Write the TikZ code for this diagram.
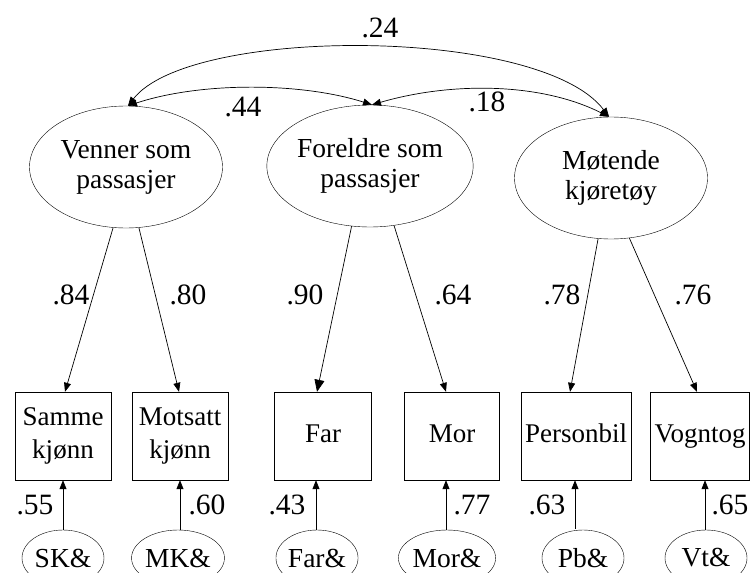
\documentclass[tikz,border=0pt]{standalone}
\usepackage{fontspec}
\setmainfont{Liberation Serif}
\usetikzlibrary{arrows.meta,shapes.geometric}

\begin{document}
\begin{tikzpicture}[x=1pt,y=-1pt,
  latent/.style={draw, ellipse, minimum width=193pt, minimum height=122pt,
    inner sep=0pt, align=center, font=\fontsize{27.5}{30}\selectfont},
  obs/.style={draw, rectangle, minimum height=88pt, inner sep=1pt,
    font=\fontsize{27}{33}\selectfont},
  obsone/.style={obs, text height=18pt, text depth=6pt},
  obstwo/.style={obs, align=center},
  err/.style={draw, ellipse, minimum width=82pt, minimum height=56pt,
    inner sep=0pt, font=\fontsize{27.5}{27.5}\selectfont},
  tip/.style={-{Triangle[length=9pt,width=7pt]}},
  bigtip/.style={-{Triangle[length=12pt,width=10pt]}},
  both/.style={{Triangle[length=9pt,width=7pt]}-{Triangle[length=9pt,width=7pt]}},
  link/.style={line width=0.7pt},
  coef/.style={font=\fontsize{29.5}{29.5}\selectfont, inner sep=0pt}
]
\useasboundingbox (0,0) rectangle (751,572);
\clip (0,0) rectangle (751,572);

% latent factors
\node[latent] (V) at (126,167) {Venner som\\passasjer};
\node[latent] (F) at (370,166) {Foreldre som\\passasjer};
\node[latent] (M) at (611,178) {Møtende\\kjøretøy};

% indicators
\node[obstwo, minimum width=96pt]  (S)  at (63,436)  {Samme\\kjønn};
\node[obstwo, minimum width=96pt]  (MK) at (180,436) {Motsatt\\kjønn};
\node[obsone, minimum width=97pt]  (Fa) at (323,436) {Far};
\node[obsone, minimum width=95pt]  (Mo) at (452,436) {Mor};
\node[obsone, minimum width=110pt] (Pb) at (576,436) {Personbil};
\node[obsone, minimum width=99pt]  (Vt) at (700,436) {Vogntog};

% error terms
\node[err] (eS)  at (63,558)  {SK\&};
\node[err] (eMK) at (178,558) {MK\&};
\node[err] (eFa) at (317,558) {Far\&};
\node[err] (eMo) at (447,558) {Mor\&};
\node[err] (ePb) at (583,558) {Pb\&};
\node[err] (eVt) at (706,558) {Vt\&};

% loadings
\draw[link,tip] (V.258) -- ([xshift=2pt]S.north);
\draw[link,tip] (V.282) -- ([xshift=-1pt]MK.north);
\draw[link,bigtip] (F.253) -- ([xshift=-6pt]Fa.north);
\draw[link,tip] (F.292) -- ([xshift=-6pt]Mo.north);
\draw[link,tip] (M.258) -- ([xshift=-6pt]Pb.north);
\draw[link,tip] (M.287) -- ([xshift=-3pt]Vt.north);

% residual paths
\draw[link,tip] (eS.north) -- (eS.north |- S.south);
\draw[link,tip] ([xshift=2pt]eMK.north) -- ([xshift=2pt]eMK.north |- MK.south);
\draw[link,tip] ([xshift=-1pt]eFa.north) -- ([xshift=-1pt]eFa.north |- Fa.south);
\draw[link,tip] ([xshift=-1pt]eMo.north) -- ([xshift=-1pt]eMo.north |- Mo.south);
\draw[link,tip] ([xshift=-8pt,yshift=1pt]ePb.north) -- ([xshift=-8pt]ePb.north |- Pb.south);
\draw[link,tip] ([xshift=-1pt]eVt.north) -- ([xshift=-1pt]eVt.north |- Vt.south);

% factor correlations
\draw[link,both]
  ([xshift=2pt]V.north) .. controls (190,26) and (540,26) .. ([xshift=-2pt]M.north);
\draw[link,both]
  ([xshift=2pt]V.north) .. controls (200,82) and (300,82) .. ([xshift=2pt]F.north);
\draw[link,both]
  ([xshift=2pt]F.north) .. controls (450,82) and (540,82) .. ([xshift=-2pt]M.north);

% coefficients
\node[coef] (c24) at (380,28)  {.24};
\node[coef] (c44) at (243,107) {.44};
\node[coef] (c18) at (487,102) {.18};
\node[coef] (c84) at (71,295)  {.84};
\node[coef] (c80) at (188,295) {.80};
\node[coef] (c90) at (305,295) {.90};
\node[coef] (c64) at (453,295) {.64};
\node[coef] (c78) at (562,295) {.78};
\node[coef] (c76) at (693,295) {.76};
\node[coef] (c55) at (35,505)  {.55};
\node[coef] (c60) at (207,505) {.60};
\node[coef] (c43) at (287,505) {.43};
\node[coef] (c77) at (472,505) {.77};
\node[coef] (c63) at (547,505) {.63};
\node[coef] (c65) at (730,505) {.65};
\end{tikzpicture}
\end{document}
